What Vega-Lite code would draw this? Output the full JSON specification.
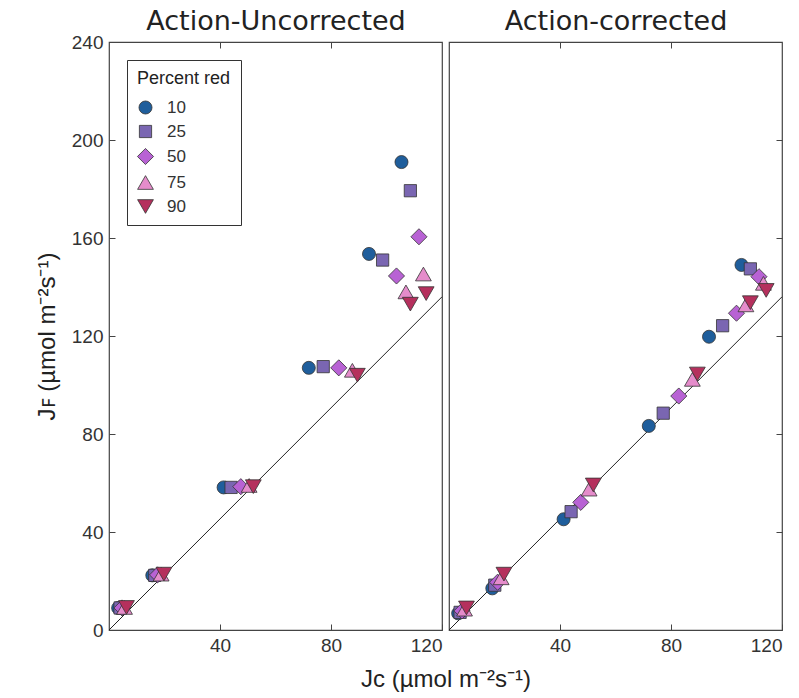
{
  "$schema": "https://vega.github.io/schema/vega-lite/v6.json",
  "padding": {"left": 34, "top": 6, "right": 5, "bottom": 5},
  "background": "white",
  "bounds": "flush",
  "datasets": {
    "ref": [{"jc": 0, "jf": 0}, {"jc": 120, "jf": 136}],
    "pts": [
      {"panel": "U", "red": "10", "jc": 3.3, "jf": 9.0},
      {"panel": "U", "red": "10", "jc": 15.6, "jf": 22.3},
      {"panel": "U", "red": "10", "jc": 41.3, "jf": 58.2},
      {"panel": "U", "red": "10", "jc": 72.0, "jf": 107.0},
      {"panel": "U", "red": "10", "jc": 93.7, "jf": 153.5},
      {"panel": "U", "red": "10", "jc": 105.4, "jf": 191.0},
      {"panel": "U", "red": "25", "jc": 4.0, "jf": 9.0},
      {"panel": "U", "red": "25", "jc": 16.5, "jf": 22.3},
      {"panel": "U", "red": "25", "jc": 44.0, "jf": 58.2},
      {"panel": "U", "red": "25", "jc": 77.2, "jf": 107.5},
      {"panel": "U", "red": "25", "jc": 98.6, "jf": 151.0},
      {"panel": "U", "red": "25", "jc": 108.6, "jf": 179.3},
      {"panel": "U", "red": "50", "jc": 4.7, "jf": 9.0},
      {"panel": "U", "red": "50", "jc": 17.5, "jf": 22.5},
      {"panel": "U", "red": "50", "jc": 47.5, "jf": 58.5},
      {"panel": "U", "red": "50", "jc": 82.8, "jf": 107.0},
      {"panel": "U", "red": "50", "jc": 103.6, "jf": 144.5},
      {"panel": "U", "red": "50", "jc": 111.7, "jf": 160.5},
      {"panel": "U", "red": "75", "jc": 5.6, "jf": 9.2},
      {"panel": "U", "red": "75", "jc": 18.8, "jf": 22.8},
      {"panel": "U", "red": "75", "jc": 50.5, "jf": 59.0},
      {"panel": "U", "red": "75", "jc": 87.7, "jf": 106.0},
      {"panel": "U", "red": "75", "jc": 107.0, "jf": 138.0},
      {"panel": "U", "red": "75", "jc": 113.3, "jf": 145.3},
      {"panel": "U", "red": "90", "jc": 6.3, "jf": 9.2},
      {"panel": "U", "red": "90", "jc": 19.8, "jf": 22.8},
      {"panel": "U", "red": "90", "jc": 52.0, "jf": 58.5},
      {"panel": "U", "red": "90", "jc": 89.5, "jf": 104.0},
      {"panel": "U", "red": "90", "jc": 108.6, "jf": 133.0},
      {"panel": "U", "red": "90", "jc": 114.3, "jf": 137.3},
      {"panel": "C", "red": "10", "jc": 3.3, "jf": 6.8},
      {"panel": "C", "red": "10", "jc": 15.6, "jf": 17.0},
      {"panel": "C", "red": "10", "jc": 41.3, "jf": 45.2},
      {"panel": "C", "red": "10", "jc": 72.0, "jf": 83.3},
      {"panel": "C", "red": "10", "jc": 93.7, "jf": 119.7},
      {"panel": "C", "red": "10", "jc": 105.4, "jf": 149.0},
      {"panel": "C", "red": "25", "jc": 4.0, "jf": 7.2},
      {"panel": "C", "red": "25", "jc": 16.5, "jf": 18.3},
      {"panel": "C", "red": "25", "jc": 44.0, "jf": 48.3},
      {"panel": "C", "red": "25", "jc": 77.2, "jf": 88.5},
      {"panel": "C", "red": "25", "jc": 98.6, "jf": 124.2},
      {"panel": "C", "red": "25", "jc": 108.6, "jf": 147.4},
      {"panel": "C", "red": "50", "jc": 4.7, "jf": 7.8},
      {"panel": "C", "red": "50", "jc": 17.5, "jf": 19.5},
      {"panel": "C", "red": "50", "jc": 47.5, "jf": 52.1},
      {"panel": "C", "red": "50", "jc": 82.8, "jf": 95.5},
      {"panel": "C", "red": "50", "jc": 103.6, "jf": 129.3},
      {"panel": "C", "red": "50", "jc": 111.7, "jf": 144.2},
      {"panel": "C", "red": "75", "jc": 5.6, "jf": 8.5},
      {"panel": "C", "red": "75", "jc": 18.8, "jf": 21.3},
      {"panel": "C", "red": "75", "jc": 50.5, "jf": 57.5},
      {"panel": "C", "red": "75", "jc": 87.7, "jf": 102.3},
      {"panel": "C", "red": "75", "jc": 107.0, "jf": 132.7},
      {"panel": "C", "red": "75", "jc": 113.3, "jf": 141.5},
      {"panel": "C", "red": "90", "jc": 6.3, "jf": 9.0},
      {"panel": "C", "red": "90", "jc": 19.8, "jf": 22.8},
      {"panel": "C", "red": "90", "jc": 52.0, "jf": 59.2},
      {"panel": "C", "red": "90", "jc": 89.5, "jf": 104.5},
      {"panel": "C", "red": "90", "jc": 108.6, "jf": 133.6},
      {"panel": "C", "red": "90", "jc": 114.3, "jf": 138.6}
    ]
  },
  "config": {
    "view": {"stroke": "#444", "strokeWidth": 1.2},
    "axis": {
      "grid": false,
      "domain": false,
      "labelFont": "Liberation Sans",
      "labelFontSize": 19,
      "labelColor": "#333",
      "tickColor": "#444",
      "tickSize": -6,
      "labelPadding": 12,
      "titleFont": "Liberation Sans",
      "titleFontSize": 24,
      "titleFontWeight": "normal",
      "titleColor": "#222"
    },
    "legend": {
      "titleFont": "Liberation Sans",
      "titleFontSize": 18,
      "titleFontWeight": "normal",
      "titleColor": "#222",
      "labelFont": "Liberation Sans",
      "labelFontSize": 17,
      "labelColor": "#333",
      "strokeColor": "#333",
      "padding": 10,
      "rowPadding": 6,
      "titlePadding": 11,
      "symbolStrokeColor": "#333",
      "symbolStrokeWidth": 0.8,
      "labelOffset": 13
    }
  },
  "spacing": 7,
  "hconcat": [
    {
      "width": 333,
      "height": 588,
      "layer": [
        {
          "data": {"name": "ref"},
          "mark": {"type": "line", "color": "#222", "strokeWidth": 1},
          "encoding": {
            "x": {"field": "jc", "type": "quantitative", "scale": {"domain": [0, 120], "nice": false},
              "axis": {"orient": "bottom", "values": [40, 80, 120], "title": "Jᴄ (µmol m⁻²s⁻¹)", "titleX": 336.5, "titlePadding": 12}},
            "y": {"field": "jf", "type": "quantitative", "scale": {"domain": [0, 240], "nice": false},
              "axis": {"orient": "left", "values": [0, 40, 80, 120, 160, 200, 240], "title": "Jꜰ (µmol m⁻²s⁻¹)", "titlePadding": 12}}
          }
        },
        {
          "data": {"name": "pts"},
          "transform": [{"filter": "datum.panel == 'U'"}],
          "mark": {"type": "point", "filled": true, "opacity": 1, "stroke": "#333", "strokeWidth": 0.8},
          "encoding": {
            "x": {"field": "jc", "type": "quantitative", "scale": {"domain": [0, 120], "nice": false},
              "axis": {"orient": "top", "values": [40, 80], "labels": false, "title": "Action-Uncorrected",
                "titleFont": "DejaVu Sans", "titleFontSize": 27, "titleColor": "#222", "titlePadding": 6}},
            "y": {"field": "jf", "type": "quantitative", "scale": {"domain": [0, 240], "nice": false}, "axis": null},
            "color": {"field": "red", "type": "nominal",
              "scale": {"domain": ["10", "25", "50", "75", "90"], "range": ["#1f5e9c", "#7a66b2", "#b862d4", "#e58ccb", "#b5305d"]},
              "legend": {"title": "Percent red", "orient": "top-left", "offset": 18}},
            "shape": {"field": "red", "type": "nominal",
              "scale": {"domain": ["10", "25", "50", "75", "90"], "range": ["circle", "square", "diamond", "triangle-up", "triangle-down"]},
              "legend": {"title": "Percent red", "orient": "top-left", "offset": 18}},
            "size": {"field": "red", "type": "nominal",
              "scale": {"type": "ordinal", "domain": ["10", "25", "50", "75", "90"], "range": [170, 150, 260, 250, 250]},
              "legend": {"title": "Percent red", "orient": "top-left", "offset": 18}}
          }
        }
      ],
      "resolve": {"axis": {"x": "independent", "y": "independent"}}
    },
    {
      "width": 333,
      "height": 588,
      "layer": [
        {
          "data": {"name": "ref"},
          "mark": {"type": "line", "color": "#222", "strokeWidth": 1},
          "encoding": {
            "x": {"field": "jc", "type": "quantitative", "scale": {"domain": [0, 120], "nice": false},
              "axis": {"orient": "bottom", "values": [40, 80, 120], "title": null}},
            "y": {"field": "jf", "type": "quantitative", "scale": {"domain": [0, 240], "nice": false},
              "axis": {"orient": "right", "values": [40, 80, 120, 160, 200], "labels": false, "title": null}}
          }
        },
        {
          "data": {"name": "pts"},
          "transform": [{"filter": "datum.panel == 'C'"}],
          "mark": {"type": "point", "filled": true, "opacity": 1, "stroke": "#333", "strokeWidth": 0.8},
          "encoding": {
            "x": {"field": "jc", "type": "quantitative", "scale": {"domain": [0, 120], "nice": false},
              "axis": {"orient": "top", "values": [40, 80], "labels": false, "title": "Action-corrected",
                "titleFont": "DejaVu Sans", "titleFontSize": 27, "titleColor": "#222", "titlePadding": 6}},
            "y": {"field": "jf", "type": "quantitative", "scale": {"domain": [0, 240], "nice": false}, "axis": null},
            "color": {"field": "red", "type": "nominal",
              "scale": {"domain": ["10", "25", "50", "75", "90"], "range": ["#1f5e9c", "#7a66b2", "#b862d4", "#e58ccb", "#b5305d"]},
              "legend": null},
            "shape": {"field": "red", "type": "nominal",
              "scale": {"domain": ["10", "25", "50", "75", "90"], "range": ["circle", "square", "diamond", "triangle-up", "triangle-down"]},
              "legend": null},
            "size": {"field": "red", "type": "nominal",
              "scale": {"type": "ordinal", "domain": ["10", "25", "50", "75", "90"], "range": [170, 150, 260, 250, 250]},
              "legend": null}
          }
        }
      ],
      "resolve": {"axis": {"x": "independent", "y": "independent"}}
    }
  ],
  "resolve": {"scale": {"color": "independent", "shape": "independent", "size": "independent"}, "legend": {"color": "independent", "shape": "independent", "size": "independent"}}
}
